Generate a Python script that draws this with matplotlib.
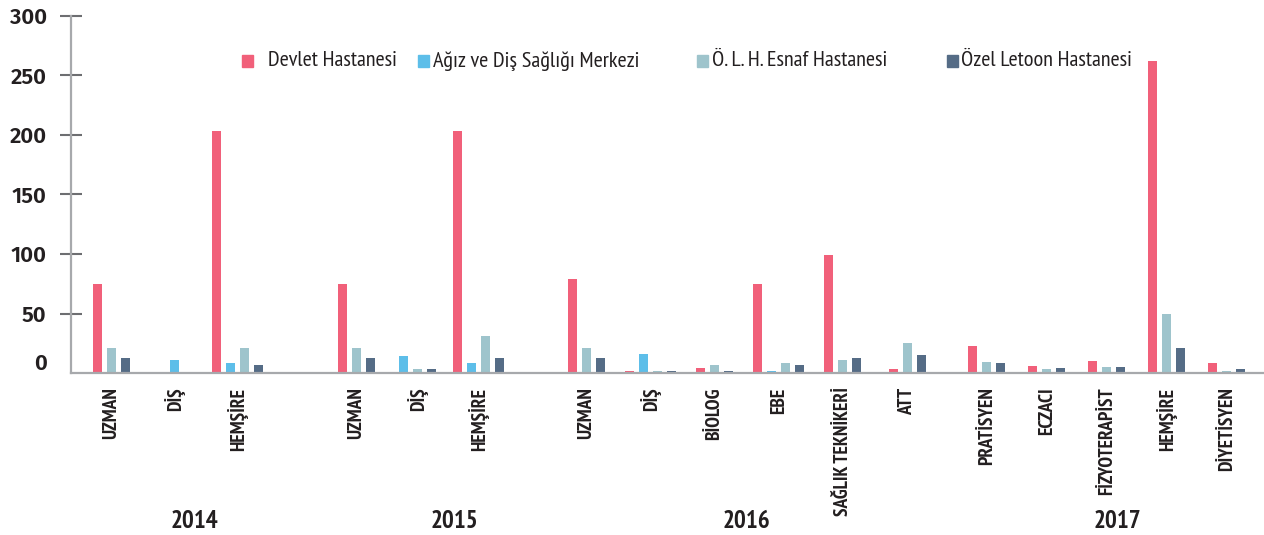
import matplotlib
matplotlib.use("Agg")
import matplotlib.pyplot as plt
from matplotlib.patches import Rectangle
from matplotlib.transforms import ScaledTranslation, blended_transform_factory
import numpy as np

nan = np.nan

# data
years = ["2014", "2015", "2016", "2017"]
cats_2014 = ["UZMAN", "DİŞ", "HEMŞİRE"]
cats_2015 = ["UZMAN", "DİŞ", "HEMŞİRE"]
cats_2016 = ["UZMAN", "DİŞ", "BİOLOG", "EBE", "SAĞLIK TEKNİKERİ", "ATT"]
cats_2017 = ["PRATİSYEN", "ECZACI", "FİZYOTERAPİST", "HEMŞİRE", "DİYETİSYEN"]

series_names = ["Devlet Hastanesi", "Ağız ve Diş Sağlığı Merkezi",
                "Ö. L. H. Esnaf Hastanesi", "Özel Letoon Hastanesi"]
devlet = [75, nan, 203, 75, nan, 203, 79, 2, 4, 75, 99, 3, 23, 6, 10, 262, 8]
agiz = [nan, 11, 8, nan, 14, 8, nan, 16, nan, 2, nan, nan, nan, nan, nan, nan, nan]
esnaf = [21, nan, 21, 21, 3, 31, 21, 2, 7, 8, 11, 25, 9, 3, 5, 50, 2]
letoon = [13, nan, 7, 13, 3, 13, 13, 2, 2, 7, 13, 15, 8, 4, 5, 21, 3]

colors = ["#f1607a", "#5dbee9", "#9ec4cc", "#556c86"]

# layout (slot units)
year_start = [0, 4.08, 7.91, 14.59]
year_step = [1.05, 1.02, 1.07, 1.0]
year_label_x = [1.39, 5.72, 10.59, 16.76]
pitch = 0.233
width = 0.15

groups = [cats_2014, cats_2015, cats_2016, cats_2017]
cat_x, cat_labels = [], []
for g, cats in enumerate(groups):
    for i, c in enumerate(cats):
        cat_x.append(year_start[g] + i * year_step[g])
        cat_labels.append(c)
cat_x = np.array(cat_x)

values = np.array([devlet, agiz, esnaf, letoon], dtype=float)

narrow = ["PT Sans Narrow", "Roboto Condensed", "DejaVu Sans"]
dark = "#231f20"

fig = plt.figure(figsize=(12.64, 5.35), dpi=100)
ax = fig.add_axes([71 / 1264, (535 - 373) / 535, 1193 / 1264, 357 / 535])

# compacted bars: only present series, centred on the category
bar_x = [[] for _ in range(4)]
bar_h = [[] for _ in range(4)]
for j, x in enumerate(cat_x):
    present = [s for s in range(4) if not np.isnan(values[s, j])]
    n = len(present)
    for k, s in enumerate(present):
        bar_x[s].append(x + (k - (n - 1) / 2) * pitch)
        bar_h[s].append(values[s, j])
for s in range(4):
    ax.bar(bar_x[s], bar_h[s], width=width, color=colors[s], zorder=2)

ax.set_xlim(-0.675, 19.21)
ax.set_ylim(0, 300)

for sp in ["top", "right"]:
    ax.spines[sp].set_visible(False)
for sp in ["left", "bottom"]:
    ax.spines[sp].set_color("#a7a9ac")
    ax.spines[sp].set_linewidth(1.6)

ax.set_yticks([0, 50, 100, 150, 200, 250, 300])
ax.tick_params(axis="y", direction="inout", length=16, width=1.5,
               color="#6d6e71", pad=9.5, labelsize=16, labelcolor=dark)
for lab in ax.get_yticklabels():
    lab.set_family(["Fira Sans", "PT Sans", "DejaVu Sans"])
    lab.set_fontweight("semibold")
t0 = ax.yaxis.get_major_ticks()[0]
t0.tick1line.set_visible(False)
t0.label1.set_transform(t0.label1.get_transform() +
                        ScaledTranslation(0, 11 / 100, fig.dpi_scale_trans))

ax.set_xticks(cat_x)
ax.set_xticklabels(cat_labels, rotation=90, family=narrow, fontweight="bold",
                   fontsize=14, color=dark)
ax.tick_params(axis="x", length=0, pad=10.5)

trans = blended_transform_factory(ax.transData, fig.transFigure)
for yx, yr in zip(year_label_x, years):
    ax.text(yx, (535 - 521) / 535, yr, transform=trans, ha="center", va="center",
            family=narrow, fontweight="bold", fontsize=18, color=dark)

# legend
sq_x = [242, 418, 697, 947]
txt_x = [268, 433, 712, 961]
for s in range(4):
    fig.patches.append(Rectangle((sq_x[s] / 1264, (535 - 67) / 535), 11 / 1264, 12 / 535,
                                 transform=fig.transFigure, color=colors[s]))
    fig.text(txt_x[s] / 1264, (535 - 61) / 535, series_names[s], ha="left", va="center",
             family=narrow, fontsize=16, color=dark)

fig.savefig("out.png", dpi=100)
